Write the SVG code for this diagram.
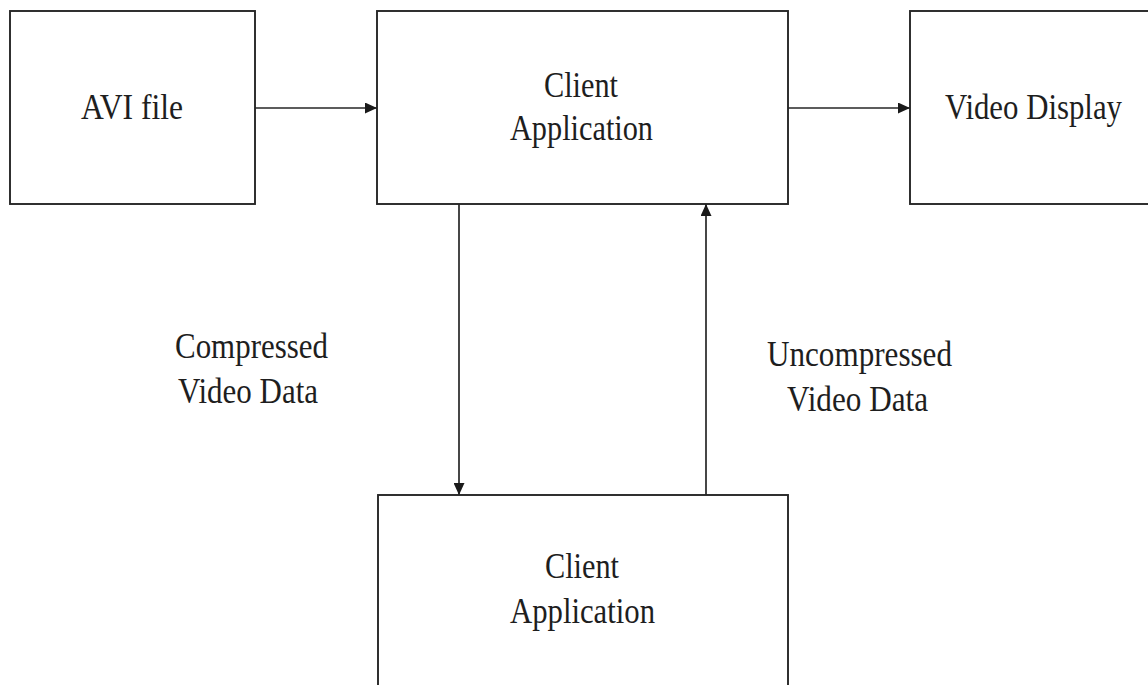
<svg xmlns="http://www.w3.org/2000/svg" width="1148" height="685" viewBox="0 0 1148 685">
  <style>
    .box { fill: #ffffff; stroke: #262626; stroke-width: 1.9; }
    .link { fill: none; stroke: #262626; stroke-width: 1.7; }
    .lbl { font-family: "Liberation Serif", "Times New Roman", serif; font-size: 35px; fill: #1e1e1e; }
  </style>
  <defs>
    <marker id="head" viewBox="0 0 12 11" refX="12" refY="5.5" markerWidth="12" markerHeight="11" markerUnits="userSpaceOnUse" orient="auto">
      <path d="M0,0 L12,5.5 L0,11 Z" fill="#1a1a1a"/>
    </marker>
  </defs>

  <rect width="1148" height="685" fill="#ffffff"/>

  <g id="connectors">
    <line class="link" x1="255" y1="108" x2="377" y2="108" marker-end="url(#head)"/>
    <line class="link" x1="788" y1="108" x2="910" y2="108" marker-end="url(#head)"/>
    <line class="link" x1="459" y1="204" x2="459" y2="495" marker-end="url(#head)"/>
    <line class="link" x1="706" y1="495" x2="706" y2="204" marker-end="url(#head)"/>
  </g>

  <g id="avi-file">
    <rect class="box" x="10" y="11" width="245" height="193"/>
    <text class="lbl" x="81" y="119" textLength="102" lengthAdjust="spacingAndGlyphs">AVI file</text>
  </g>

  <g id="client-app-top">
    <rect class="box" x="377" y="11" width="411" height="193"/>
    <text class="lbl" x="544" y="97" textLength="74" lengthAdjust="spacingAndGlyphs">Client</text>
    <text class="lbl" x="510" y="140" textLength="143" lengthAdjust="spacingAndGlyphs">Application</text>
  </g>

  <g id="video-display">
    <rect class="box" x="910" y="11" width="250" height="193"/>
    <text class="lbl" x="945" y="119" textLength="177" lengthAdjust="spacingAndGlyphs">Video Display</text>
  </g>

  <g id="client-app-bottom">
    <rect class="box" x="378" y="495" width="410" height="200"/>
    <text class="lbl" x="545" y="578" textLength="74" lengthAdjust="spacingAndGlyphs">Client</text>
    <text class="lbl" x="510" y="623" textLength="145" lengthAdjust="spacingAndGlyphs">Application</text>
  </g>

  <g id="label-compressed">
    <text class="lbl" x="175" y="358" textLength="153" lengthAdjust="spacingAndGlyphs">Compressed</text>
    <text class="lbl" x="178" y="403" textLength="140" lengthAdjust="spacingAndGlyphs">Video Data</text>
  </g>

  <g id="label-uncompressed">
    <text class="lbl" x="767" y="366" textLength="185" lengthAdjust="spacingAndGlyphs">Uncompressed</text>
    <text class="lbl" x="787" y="411" textLength="141" lengthAdjust="spacingAndGlyphs">Video Data</text>
  </g>
</svg>
